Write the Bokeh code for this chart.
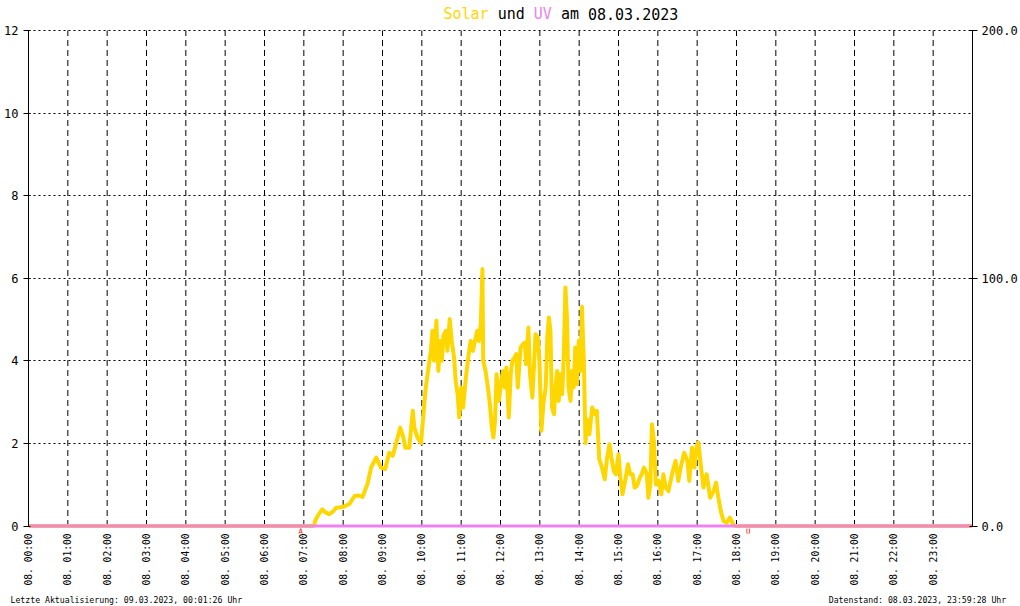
import math
from bokeh.plotting import figure
from bokeh.models import Range1d, LinearAxis, FixedTicker, Label, ColumnDataSource
from bokeh.embed import file_html
from bokeh.resources import INLINE

# ---------------- data ----------------
date_str = "08.03.2023"
day_prefix = "08."
hours = list(range(24))
hour_labels = [f"{day_prefix} {h:02d}:00" for h in hours]
grid_hours = hours[1:]
left_ticks = [0, 2, 4, 6, 8, 10, 12]
right_ticks = [0, 100, 200]
left_max = 12
right_max = 200

# Solar radiation (W/m^2, right axis), time in decimal hours
solar_t = [0.00, 7.25, 7.30, 7.38, 7.47, 7.55, 7.65, 7.74, 7.82, 8.00, 8.16, 8.29, 8.40, 8.49,
           8.62, 8.71, 8.84, 8.96, 9.07, 9.17, 9.26, 9.34, 9.45, 9.53, 9.58, 9.68, 9.77, 9.81,
           9.89, 9.98, 10.04, 10.10, 10.17, 10.23, 10.27, 10.31, 10.37, 10.42, 10.47, 10.51,
           10.55, 10.61, 10.65, 10.71, 10.76, 10.82, 10.86, 10.91, 10.95, 11.00, 11.05, 11.12,
           11.18, 11.24, 11.30, 11.35, 11.41, 11.45, 11.50, 11.54, 11.56, 11.62, 11.68, 11.73,
           11.78, 11.82, 11.86, 11.90, 11.96, 12.02, 12.06, 12.11, 12.15, 12.21, 12.26, 12.30,
           12.36, 12.40, 12.44, 12.51, 12.57, 12.62, 12.65, 12.71, 12.75, 12.81, 12.85, 12.89,
           12.95, 12.99, 13.04, 13.09, 13.15, 13.19, 13.23, 13.27, 13.31, 13.36, 13.40, 13.44,
           13.48, 13.52, 13.57, 13.61, 13.65, 13.69, 13.73, 13.78, 13.82, 13.86, 13.90, 13.94,
           13.99, 14.03, 14.07, 14.12, 14.16, 14.20, 14.26, 14.33, 14.41, 14.45, 14.51, 14.58,
           14.65, 14.71, 14.77, 14.82, 14.88, 14.93, 15.00, 15.04, 15.10, 15.17, 15.24, 15.30,
           15.36, 15.41, 15.47, 15.53, 15.59, 15.65, 15.72, 15.76, 15.81, 15.85, 15.90, 15.95,
           16.02, 16.09, 16.14, 16.20, 16.27, 16.36, 16.45, 16.52, 16.58, 16.67, 16.75, 16.80,
           16.87, 16.93, 16.99, 17.03, 17.10, 17.16, 17.24, 17.33, 17.42, 17.48, 17.54, 17.60,
           17.67, 17.75, 17.83, 17.92, 17.96, 23.99]
solar_v = [0.0, 0.0, 2.5, 4.8, 6.7, 5.5, 4.8, 5.8, 7.4, 7.7, 8.9, 12.1, 12.3, 11.7,
           17.0, 23.6, 27.6, 23.6, 23.0, 29.6, 28.3, 33.0, 39.7, 35.7, 31.6, 31.6, 46.5, 39.7,
           35.7, 33.5, 45.0, 55.9, 64.0, 70.7, 78.8, 66.7, 82.8, 62.6, 74.7, 66.7,
           76.8, 78.8, 70.7, 83.5, 74.7, 68.0, 58.6, 53.2, 43.8, 55.9, 47.8, 59.9,
           68.0, 74.7, 70.7, 74.7, 78.8, 74.7, 81.5, 103.7, 66.7, 62.6, 55.9, 49.2,
           39.7, 35.7, 42.4, 61.3, 50.5, 58.6, 62.6, 55.9, 64.0, 43.8, 61.3, 66.7,
           68.0, 69.4, 55.9, 72.0, 73.4, 74.0, 65.3, 80.1, 61.3, 51.8, 64.0, 77.4,
           76.1, 66.7, 38.4, 49.2, 55.9, 76.1, 84.2, 78.8, 47.8, 45.1, 55.9, 62.6,
           50.5, 61.3, 53.2, 69.4, 96.3, 84.2, 55.9, 50.5, 62.6, 55.9, 72.0, 57.3,
           74.7, 62.6, 88.5, 66.0, 33.5, 43.0, 37.0, 47.8, 45.0, 46.5, 27.0, 23.6,
           18.9, 27.6, 33.0, 27.6, 22.2, 20.9, 29.0, 20.9, 12.8, 18.2, 24.9, 20.9,
           20.9, 15.5, 16.2, 18.9, 20.9, 23.6, 20.9, 11.4, 16.8, 41.1, 34.3, 16.8,
           18.2, 12.8, 20.9, 15.5, 14.1, 20.9, 26.3, 18.2, 23.6, 29.6, 26.3, 18.2,
           31.6, 23.6, 32.3, 33.7, 23.6, 15.5, 20.9, 11.4, 14.1, 17.5, 11.4, 6.1,
           2.0, 1.3, 3.4, 0.7, 0.0, 0.0]

# UV index (left axis)
uv_t = [0.00, 23.99]
uv_v = [0.0, 0.0]

# sunrise (A = Aufgang) / sunset (U = Untergang), decimal hours
sun_marks_t = [6.92, 18.30]
sun_marks_txt = ["A", "U"]

title_text = "Solar und UV am " + date_str
title_word_colors = ["#FFD700", "black", "#EE82EE", "black", "black"]
update_text = "Letzte Aktualisierung: 09.03.2023, 00:01:26 Uhr"
data_text = "Datenstand: 08.03.2023, 23:59:28 Uhr"

# ---------------- layout / styling ----------------
MONO = "DejaVu Sans Mono"
GOLD = "#FFD700"
VIOLET = "#EE82EE"

W, H = 1020, 606
BORDER_L, BORDER_R = 28, 45
FRAME_BOTTOM = 533            # canvas y of frame bottom (frame top at 0)
Y_TOP_PX, Y_ZERO_PX = 30, 525.5
FRAME_H = FRAME_BOTTOM
ppu = (Y_ZERO_PX - Y_TOP_PX) / left_max
y_lo = -(FRAME_BOTTOM - Y_ZERO_PX) / ppu
y_hi = left_max + Y_TOP_PX / ppu
rscale = right_max / left_max

p = figure(width=W, height=H, x_range=Range1d(0, 24), y_range=Range1d(y_lo, y_hi),
           output_backend="svg", toolbar_location=None,
           min_border_left=BORDER_L, min_border_right=BORDER_R, min_border_top=0,
           min_border_bottom=H - FRAME_BOTTOM,
           background_fill_color="white", border_fill_color="white", outline_line_color=None)
p.extra_y_ranges = {"right": Range1d(y_lo * rscale, y_hi * rscale)}

# bottom axis
xa = p.xaxis[0]
xa.ticker = FixedTicker(ticks=hours)
xa.major_label_overrides = {h: lab for h, lab in zip(hours, hour_labels)}
xa.major_label_orientation = math.pi / 2
xa.major_label_text_font = MONO
xa.major_label_text_font_size = "9.6px"
xa.major_label_text_color = "black"
xa.major_label_standoff = 0
xa.major_tick_out = 0
xa.major_tick_in = 0
xa.minor_tick_line_color = None
xa.major_tick_line_color = None
xa.axis_line_color = None

# left axis
ya = p.yaxis[0]
ya.ticker = FixedTicker(ticks=left_ticks)
ya.bounds = (0, left_max)
ya.major_label_text_font = MONO
ya.major_label_text_font_size = "12px"
ya.major_label_text_color = "black"
ya.major_label_standoff = 5
ya.major_tick_out = 5
ya.major_tick_in = 2
ya.minor_tick_line_color = None
ya.axis_line_color = "black"
ya.major_tick_line_color = "black"

# right axis
ra = LinearAxis(y_range_name="right", ticker=FixedTicker(ticks=right_ticks),
                bounds=(0, right_max),
                major_label_overrides={t: f"{t:.1f}" for t in right_ticks},
                major_label_text_font=MONO, major_label_text_font_size="12px",
                major_label_text_color="black",
                major_tick_out=5, major_tick_in=3, major_label_standoff=4,
                minor_tick_line_color=None, axis_line_color="black",
                major_tick_line_color="black")
p.add_layout(ra, "right")

# grids: horizontal dotted via Grid, vertical dashed between 0 and max
p.xgrid.visible = False
p.ygrid.grid_line_color = "black"
p.ygrid.grid_line_dash = "2 3"
p.ygrid.grid_line_width = 1
p.segment(x0=grid_hours, y0=[0] * len(grid_hours), x1=grid_hours,
          y1=[left_max] * len(grid_hours), line_color="black", line_dash="6 4", line_width=1)

# series
src = ColumnDataSource(dict(t=solar_t, v=solar_v))
p.line("t", "v", source=src, y_range_name="right", line_color=GOLD, line_width=4,
       line_join="round")
p.line(uv_t, uv_v, line_color=VIOLET, line_width=3)

# sunrise / sunset markers, just under the zero line
for t, s in zip(sun_marks_t, sun_marks_txt):
    p.add_layout(Label(x=t, y=2, y_units="screen", text=s, text_font=MONO,
                       text_font_size="7.5px", text_color="red", text_align="center",
                       text_baseline="middle"))

# title: one label per word, coloured, placed on a monospace character grid
cw = 0.602 * 15
x0 = 443 - BORDER_L
pos = 0
for word, col in zip(title_text.split(" "), title_word_colors):
    idx = title_text.index(word, pos)
    p.add_layout(Label(x=x0 + idx * cw, y=FRAME_H - 13, x_units="screen", y_units="screen",
                       text=word, text_font=MONO, text_font_size="15px", text_color=col,
                       text_align="left", text_baseline="middle"))
    pos = idx + len(word)

# footer: one row below the x axis, left and right parts separated by no-break spaces
cwf = 0.602 * 8.2
n_total = int(round((1009 - 10) / cwf))
gap = "\u00a0" * max(1, n_total - len(update_text) - len(data_text))
foot = Label(x=10 - BORDER_L, y=-1, x_units="screen", y_units="screen",
             text=update_text + gap + data_text,
             text_font=MONO, text_font_size="8.2px", text_color="black",
             text_align="left", text_baseline="middle")
p.add_layout(foot, "below")

open("out.html", "w").write(file_html(p, INLINE))
